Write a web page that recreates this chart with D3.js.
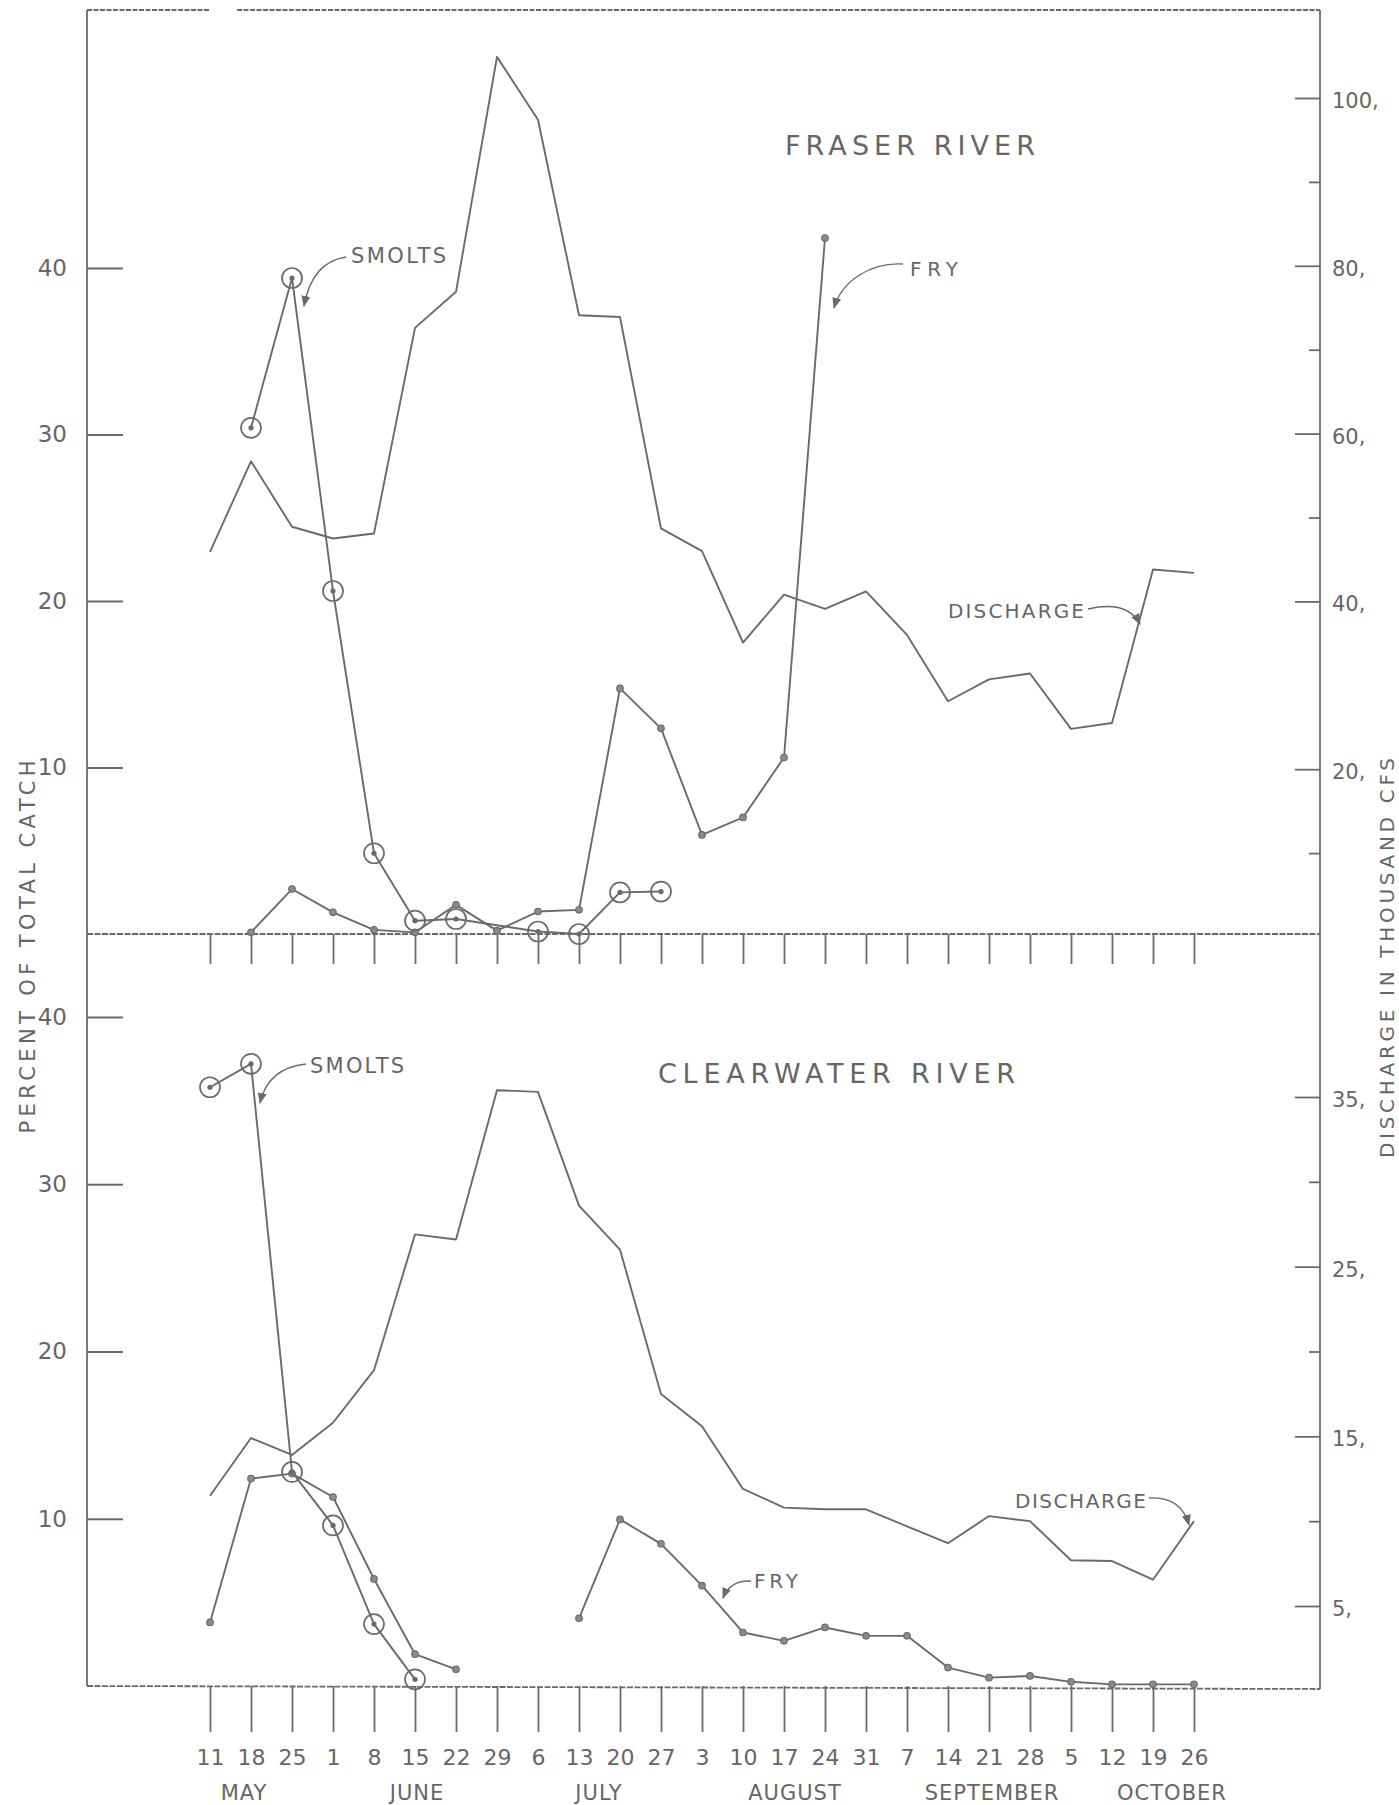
<!DOCTYPE html>
<html>
<head>
<meta charset="utf-8">
<script src="https://cdn.jsdelivr.net/npm/d3@7"></script>
<style>
  html, body { margin: 0; padding: 0; background: #fff; }
  svg { display: block; }
  text { font-family: "DejaVu Sans", "Liberation Sans", sans-serif; fill: #666; }
</style>
</head>
<body>
<script>
// ---------------- DATA ----------------
const weeks = ["May 11","May 18","May 25","Jun 1","Jun 8","Jun 15","Jun 22","Jun 29","Jul 6","Jul 13","Jul 20","Jul 27",
  "Aug 3","Aug 10","Aug 17","Aug 24","Aug 31","Sep 7","Sep 14","Sep 21","Sep 28","Oct 5","Oct 12","Oct 19","Oct 26"];
const dayLabels = ["11","18","25","1","8","15","22","29","6","13","20","27","3","10","17","24","31","7","14","21","28","5","12","19","26"];
const monthLabels = ["MAY","JUNE","JULY","AUGUST","SEPTEMBER","OCTOBER"];
const monthAnchorWeeks = ["May 18","Jun 15","Jul 13","Aug 17","Sep 21","Oct 19"];

// Fraser River (top panel)
const fraserDischarge = [45.9,56.7,48.9,47.5,48.1,72.6,76.9,104.9,97.4,74.1,73.9,48.7,
  46.0,35.1,40.8,39.1,41.2,36.0,28.1,30.7,31.4,24.8,25.5,43.8,43.4];       // thousand cfs
const fraserSmolts = [null,30.4,39.4,20.6,4.85,0.8,0.9,null,0.15,0.0,2.5,2.55,
  null,null,null,null,null,null,null,null,null,null,null,null,null];      // % of total catch
const fraserFry = [null,0.1,2.7,1.3,0.25,0.1,1.75,0.2,1.35,1.45,14.75,12.35,
  5.95,7.0,10.6,41.8,null,null,null,null,null,null,null,null,null];

// Clearwater River (bottom panel)
const clearDischarge = [11.5,14.9,13.9,15.8,18.9,26.9,26.6,35.4,35.3,28.6,26.0,17.5,
  15.6,11.9,10.8,10.7,10.7,9.7,8.7,10.3,10.0,7.7,7.65,6.55,10.0];
const clearSmolts = [35.8,37.2,12.8,9.6,3.7,0.4,null,null,null,null,null,null,
  null,null,null,null,null,null,null,null,null,null,null,null,null];
const clearFry = [3.8,12.4,12.7,11.3,6.4,1.9,1.0,null,null,4.05,9.96,8.5,
  6.0,3.2,2.7,3.5,3.0,3.0,1.1,0.5,0.6,0.25,0.1,0.1,0.1];

const leftTicks = [10,20,30,40];
const topRightTicks = [20,40,60,80,100];
const topRightMinor = [10,50,70,90];
const botRightTicks = [5,15,25,35];
const botRightMinor = [10,20,30];

// ---------------- LAYOUT ----------------
const W = 1399, H = 1805;
const ink = "#6a6a6a";
const axL = 87, axR = 1320, topY = 10;
const monthOffsets = [-7, 2, 20, 11, 3, 19];

const svg = d3.select("body").append("svg").attr("width", W).attr("height", H);
const defs = svg.append("defs");
defs.append("marker").attr("id","arr").attr("viewBox","0 0 10 10").attr("refX",9).attr("refY",5)
  .attr("markerWidth",8).attr("markerHeight",8).attr("orient","auto-start-reverse")
  .append("path").attr("d","M0,1 L10,5 L0,9 Z").attr("fill",ink);

const x = d3.scalePoint().domain(weeks).range([210, 1194]);
const yTopL = d3.scaleLinear().domain([0, 40]).range([934, 268]);
const yTopR = d3.scaleLinear().domain([0, 100]).range([937, 98]);
const yBotL = d3.scaleLinear().domain([0, 40]).range([1686, 1017]);
const yBotR = d3.scaleLinear().domain([5, 35]).range([1606, 1097]);

// ---------------- FRAME ----------------
const frame = svg.append("g").attr("stroke", ink).attr("stroke-width", 1.8).attr("fill","none");
frame.append("line").attr("x1",axL).attr("x2",axL).attr("y1",topY).attr("y2",yBotL(0));
frame.append("line").attr("x1",axR).attr("x2",axR).attr("y1",topY).attr("y2",yBotL(0)+3);
frame.append("line").attr("x1",axL).attr("x2",210).attr("y1",topY).attr("y2",topY).attr("stroke-dasharray","5,1.5");
frame.append("line").attr("x1",237).attr("x2",axR).attr("y1",topY).attr("y2",topY).attr("stroke-dasharray","5,1.5");
frame.append("line").attr("x1",axL).attr("x2",axR).attr("y1",yTopL(0)).attr("y2",yTopL(0)).attr("stroke-dasharray","6,1.5");
frame.append("line").attr("x1",axL).attr("x2",axR).attr("y1",yBotL(0)).attr("y2",yBotL(0)+3).attr("stroke-dasharray","6,1.5");

function styleAxis(g, size) {
  g.select(".domain").remove();
  g.selectAll(".tick line").attr("stroke", ink).attr("stroke-width", 1.8);
  g.selectAll(".tick text").attr("fill", "#666").attr("font-size", size)
    .attr("font-family", "DejaVu Sans, sans-serif");
}

// left axes
svg.append("g").attr("transform",`translate(${axL},0)`)
  .call(d3.axisLeft(yTopL).tickValues(leftTicks).tickSizeInner(-36).tickSizeOuter(0).tickPadding(20))
  .call(g => styleAxis(g, 23));
svg.append("g").attr("transform",`translate(${axL},0)`)
  .call(d3.axisLeft(yBotL).tickValues(leftTicks).tickSizeInner(-36).tickSizeOuter(0).tickPadding(20))
  .call(g => styleAxis(g, 23));

// right axes
function rightAxis(scale, major, minor) {
  svg.append("g").attr("transform",`translate(${axR},0)`)
    .call(d3.axisRight(scale).tickValues(major).tickSizeInner(-25).tickSizeOuter(0).tickPadding(12).tickFormat(d => d + ","))
    .call(g => { styleAxis(g, 21); g.selectAll(".tick text").attr("dy","0.45em"); });
  svg.append("g").attr("transform",`translate(${axR},0)`)
    .call(d3.axisRight(scale).tickValues(minor).tickSizeInner(-11).tickSizeOuter(0).tickFormat(""))
    .call(g => styleAxis(g, 21));
}
rightAxis(yTopR, topRightTicks, topRightMinor);
rightAxis(yBotR, botRightTicks, botRightMinor);

// week ticks
svg.append("g").attr("transform",`translate(0,${yTopL(0)})`)
  .call(d3.axisBottom(x).tickSizeInner(30).tickSizeOuter(0).tickFormat(""))
  .call(g => styleAxis(g, 22));
svg.append("g").attr("transform",`translate(0,${yBotL(0)})`)
  .call(d3.axisBottom(x).tickSizeInner(46).tickSizeOuter(0).tickPadding(17).tickFormat((d,i) => dayLabels[i]))
  .call(g => styleAxis(g, 22));

// month labels
monthLabels.forEach((m, i) => {
  const cx = x(monthAnchorWeeks[i]) + monthOffsets[i];
  svg.append("text").attr("x", cx).attr("y", 1800).attr("text-anchor","middle")
    .attr("font-size", 21).attr("letter-spacing", 1).text(m);
});

// axis titles
svg.append("text").attr("transform","translate(35,947) rotate(-90)").attr("text-anchor","middle")
  .attr("font-size", 21).attr("textLength", 373).attr("lengthAdjust","spacing")
  .text("PERCENT OF TOTAL CATCH");
svg.append("text").attr("transform","translate(1394,958) rotate(-90)").attr("text-anchor","middle")
  .attr("font-size", 20).attr("textLength", 400).attr("lengthAdjust","spacing")
  .text("DISCHARGE IN THOUSAND CFS");

// panel titles
svg.append("text").attr("x", 785).attr("y", 155).attr("font-size", 27)
  .attr("textLength", 250).attr("lengthAdjust","spacing").text("FRASER   RIVER");
svg.append("text").attr("x", 658).attr("y", 1083).attr("font-size", 27)
  .attr("textLength", 357).attr("lengthAdjust","spacing").text("CLEARWATER   RIVER");

// ---------------- SERIES ----------------
function drawSeries(vals, yScale, opts) {
  const pts = weeks.map((w, i) => ({ w, v: vals[i] }));
  const defined = pts.filter(p => p.v !== null);
  const line = d3.line().x(p => x(p.w)).y(p => yScale(p.v));
  if (opts.connect) {
    svg.append("path").datum(defined).attr("d", line)
      .attr("fill","none").attr("stroke", ink).attr("stroke-width", 1.9).attr("stroke-linejoin","round");
  } else {
    svg.append("path").datum(pts).attr("d", line.defined(p => p.v !== null))
      .attr("fill","none").attr("stroke", ink).attr("stroke-width", 1.9).attr("stroke-linejoin","round");
  }
  if (opts.marker === "ring") {
    const g = svg.append("g");
    g.selectAll("circle.ring").data(defined).join("circle").attr("class","ring")
      .attr("cx", p => x(p.w)).attr("cy", p => yScale(p.v)).attr("r", 10)
      .attr("fill","none").attr("stroke", ink).attr("stroke-width", 1.7);
    g.selectAll("circle.dot").data(defined).join("circle").attr("class","dot")
      .attr("cx", p => x(p.w)).attr("cy", p => yScale(p.v)).attr("r", 2.6).attr("fill", ink);
  } else if (opts.marker === "dot") {
    svg.append("g").selectAll("circle").data(defined).join("circle")
      .attr("cx", p => x(p.w)).attr("cy", p => yScale(p.v)).attr("r", 3.3)
      .attr("fill", "#8a8a8a").attr("stroke", ink).attr("stroke-width", 1.1);
  }
}

drawSeries(fraserDischarge, yTopR, { marker: null });
drawSeries(fraserFry, yTopL, { marker: "dot" });
drawSeries(fraserSmolts, yTopL, { marker: "ring", connect: true });

drawSeries(clearDischarge, yBotR, { marker: null });
drawSeries(clearFry, yBotL, { marker: "dot" });
drawSeries(clearSmolts, yBotL, { marker: "ring", connect: true });

// ---------------- ANNOTATIONS ----------------
function label(txt, x0, y0, len, size) {
  svg.append("text").attr("x", x0).attr("y", y0).attr("font-size", size)
    .attr("textLength", len).attr("lengthAdjust","spacing").text(txt);
}
function leader(d) {
  svg.append("path").attr("d", d).attr("fill","none").attr("stroke", ink)
    .attr("stroke-width", 1.4).attr("marker-end","url(#arr)");
}
label("SMOLTS", 351, 263, 95, 21);
leader("M346,257 Q312,262 304,306");
label("FRY", 910, 276, 48, 20);
leader("M903,264 C872,262 842,280 834,308");
label("DISCHARGE", 948, 618, 136, 20);
leader("M1088,609 Q1127,600 1140,624");

label("SMOLTS", 310, 1073, 94, 21);
leader("M306,1064 Q268,1068 260,1103");
label("FRY", 754, 1588, 44, 20);
leader("M751,1581 Q730,1580 723,1598");
label("DISCHARGE", 1015, 1508, 131, 20);
leader("M1149,1498 Q1181,1496 1189,1525");
</script>
</body>
</html>
